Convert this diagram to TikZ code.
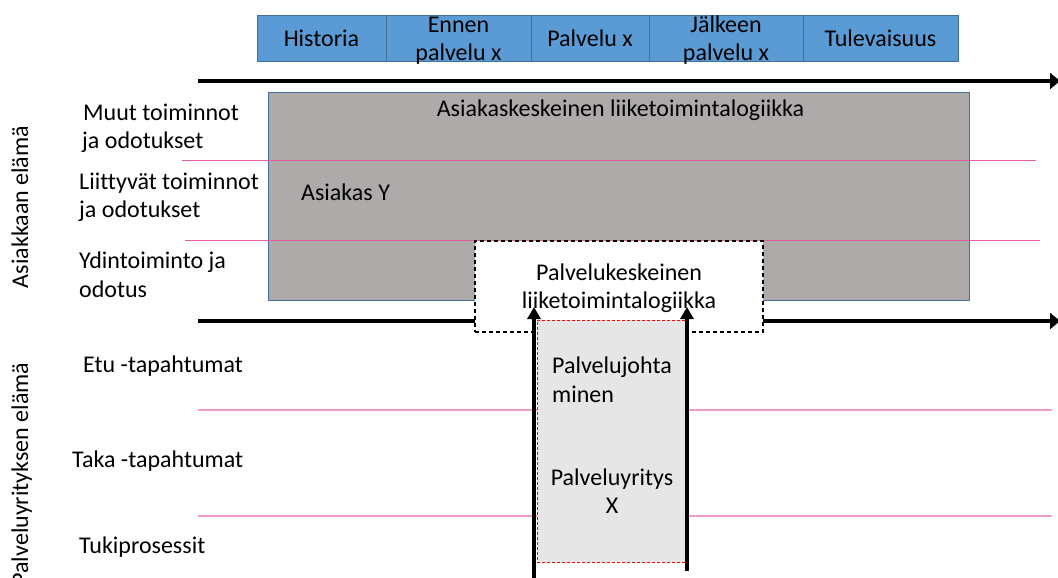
\documentclass[tikz,border=0pt]{standalone}
\usepackage{fontspec}
\setmainfont{Carlito}[Ligatures=NoCommon]
\usetikzlibrary{arrows.meta}
\definecolor{phaseblue}{RGB}{91,155,213}
\definecolor{phaseedge}{RGB}{65,113,156}
\definecolor{logicgray}{RGB}{174,170,170}
\definecolor{procgray}{RGB}{231,230,230}
\definecolor{lanepink}{RGB}{228,95,160}
\definecolor{lanepinklight}{RGB}{238,155,198}

\begin{document}
\begin{tikzpicture}[x=1pt,y=-1pt,
  txt/.style={font=\fontsize{24}{28}\selectfont, inner sep=0pt, anchor=base},
  txtw/.style={txt, anchor=base west},
  boxnw/.style={anchor=north west, inner sep=0pt, outer sep=0pt},
  phase/.style={boxnw, draw=phaseedge, line width=1pt, fill=phaseblue},
  timeline/.style={line width=4.5pt, -{Triangle[length=10pt,width=16pt]}},
  upline/.style={line width=4pt, -{Triangle[length=12pt,width=13pt]}},
  laneA/.style={draw=lanepink, line width=1pt},
  laneB/.style={draw=lanepinklight, line width=1.3pt}
]
\useasboundingbox (0,0) rectangle (1058,578);

% phase boxes along the top
\node[phase, minimum width=129pt, minimum height=46pt] (hist) at (257,16) {};
\node[phase, minimum width=145pt, minimum height=46pt] (ennen) at (386,16) {};
\node[phase, minimum width=118pt, minimum height=46pt] (palv) at (531,16) {};
\node[phase, minimum width=154pt, minimum height=46pt] (jalk) at (649,16) {};
\node[phase, minimum width=155pt, minimum height=46pt] (tulev) at (803,16) {};
\node[txt] (thist) at (321.5,47) {Historia};
\node[txt] (tennen1) at (458.5,33) {Ennen};
\node[txt] (tennen2) at (458.5,60) {palvelu x};
\node[txt] (tpalv) at (590,47) {Palvelu x};
\node[txt] (tjalk1) at (726,33) {Jälkeen};
\node[txt] (tjalk2) at (726,60) {palvelu x};
\node[txt] (ttulev) at (880.5,47) {Tulevaisuus};

% upper time line
\coordinate (t1a) at (198,81);
\coordinate (t1b) at (1060,81);
\draw[timeline] (t1a) -- (t1b);

% customer-centred logic area
\node[boxnw, draw=phaseedge, line width=1pt, fill=logicgray,
      minimum width=701pt, minimum height=207pt] (cust) at (268,93) {};

% customer lanes
\coordinate (la1) at (182,160);
\coordinate (la2) at (1036,160);
\coordinate (lb1) at (185,240);
\coordinate (lb2) at (1040,240);
\draw[laneA] (la1) -- (la2);
\draw[laneA] (lb1) -- (lb2);

% middle time line
\coordinate (t2a) at (198,321);
\coordinate (t2b) at (1060,321);
\draw[timeline] (t2a) -- (t2b);

% service-centred logic
\node[boxnw, draw=black, dashed, dash pattern=on 4pt off 3pt, line width=1.1pt, fill=white,
      minimum width=288pt, minimum height=91pt] (serv) at (475,241) {};

% provider lanes
\coordinate (lc1) at (198,410);
\coordinate (lc2) at (1052,410);
\coordinate (ld1) at (198,516);
\coordinate (ld2) at (1052,516);
\draw[laneB] (lc1) -- (lc2);
\draw[laneB] (ld1) -- (ld2);

% service company column
\node[boxnw, draw=red, dash pattern=on 3pt off 2pt, line width=1pt, fill=procgray,
      minimum width=148pt, minimum height=242pt] (proc) at (537,320) {};

% upward arrows
\coordinate (ua1) at (534,582);
\coordinate (ua2) at (534,307);
\coordinate (ub1) at (687,571);
\coordinate (ub2) at (687,307);
\draw[upline] (ua1) -- (ua2);
\draw[upline] (ub1) -- (ub2);

% texts inside the areas
\node[txt] (tcust) at (620.5,117) {Asiakaskeskeinen liiketoimintalogiikka};
\node[txtw] (tasy) at (301,200) {Asiakas Y};
\node[txt] (tserv1) at (619,280) {Palvelukeskeinen};
\node[txt] (tserv2) at (619,308) {liiketoimintalogiikka};
\node[txtw] (tjoht1) at (552,373) {Palvelujohta};
\node[txtw] (tjoht2) at (552,402) {minen};
\node[txt] (tyr1) at (612,485) {Palveluyritys};
\node[txt] (tyr2) at (612,513) {X};

% lane labels
\node[txtw] (lm1) at (83,121) {Muut toiminnot};
\node[txtw] (lm2) at (82,148) {ja odotukset};
\node[txtw] (ll1) at (79,189) {Liittyvät toiminnot};
\node[txtw] (ll2) at (79,217) {ja odotukset};
\node[txtw] (ly1) at (79,268) {Ydintoiminto ja};
\node[txtw] (ly2) at (79,297) {odotus};
\node[txtw] (le) at (83,372) {Etu -tapahtumat};
\node[txtw] (lt) at (72,467) {Taka -tapahtumat};
\node[txtw] (lk) at (79,553) {Tukiprosessit};

% side titles
\node[txt, rotate=90] (sidea) at (28,207) {Asiakkaan elämä};
\node[txt, rotate=90] (sideb) at (28,474) {Palveluyrityksen elämä};
\end{tikzpicture}
\end{document}
